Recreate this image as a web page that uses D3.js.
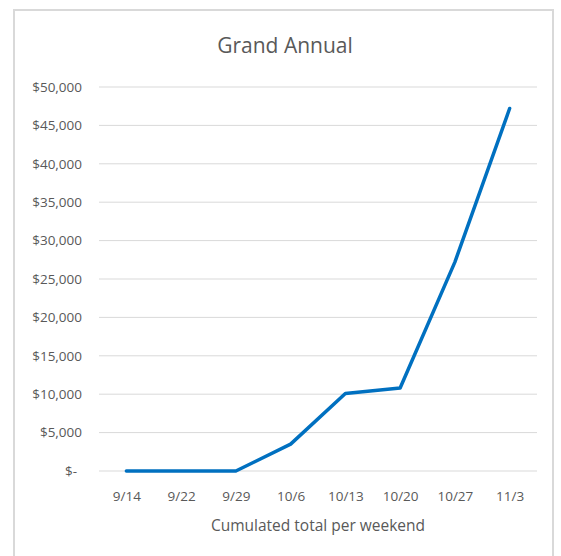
<!DOCTYPE html>
<html>
<head>
<meta charset="utf-8">
<script src="https://cdn.jsdelivr.net/npm/d3@7"></script>
<style>
  body { margin: 0; background: #fff; }
  text { font-family: "Open Sans", "Noto Sans", sans-serif; fill: #595959; }
</style>
</head>
<body>
<div id="chart"></div>
<script>
// data
var weekends = ["9/14", "9/22", "9/29", "10/6", "10/13", "10/20", "10/27", "11/3"];
var totals = [0, 0, 0, 3500, 10100, 10800, 27200, 47200];
var yTicks = [0, 5000, 10000, 15000, 20000, 25000, 30000, 35000, 40000, 45000, 50000];

var svgWidth = 561;
var svgHeight = 556;

var margin = { top: 87, right: 24, bottom: 85, left: 99 };
var width = svgWidth - margin.left - margin.right;
var height = svgHeight - margin.top - margin.bottom;

var svg = d3.select("#chart")
  .append("svg")
  .attr("width", svgWidth)
  .attr("height", svgHeight);

// chart frame
svg.append("rect")
  .attr("x", 14)
  .attr("y", 10)
  .attr("width", 539)
  .attr("height", 560)
  .attr("fill", "none")
  .attr("stroke", "#d9d9d9")
  .attr("stroke-width", 2);

var chartGroup = svg.append("g")
  .attr("transform", `translate(${margin.left}, ${margin.top})`);

var xScale = d3.scalePoint()
  .domain(weekends)
  .range([0, width])
  .padding(0.5);

var yScale = d3.scaleLinear()
  .domain([0, 50000])
  .range([height, 0]);

// gridlines
chartGroup.selectAll(".grid")
  .data(yTicks)
  .enter()
  .append("line")
  .attr("x1", 0)
  .attr("x2", width)
  .attr("y1", d => yScale(d))
  .attr("y2", d => yScale(d))
  .attr("stroke", "#d9d9d9")
  .attr("stroke-width", 1);

// y axis labels
var leftAxis = d3.axisLeft(yScale)
  .tickValues(yTicks)
  .tickSize(0)
  .tickPadding(17)
  .tickFormat(d => d === 0 ? "$-" : "$" + d3.format(",")(d));

var yAxis = chartGroup.append("g").call(leftAxis);
yAxis.select(".domain").remove();
yAxis.selectAll("text").style("font-size", "13.5px");
// "$-" sits a bit left in accounting format
yAxis.selectAll("text").filter(d => d === 0).attr("dx", "-5px");

// x axis labels
var bottomAxis = d3.axisBottom(xScale).tickSize(0).tickPadding(20);
var xAxis = chartGroup.append("g")
  .attr("transform", `translate(0, ${height})`)
  .call(bottomAxis);
xAxis.select(".domain").remove();
xAxis.selectAll("text").style("font-size", "13.5px");

// line
var line = d3.line()
  .x((d, i) => xScale(weekends[i]))
  .y(d => yScale(d));

chartGroup.append("path")
  .datum(totals)
  .attr("d", line)
  .attr("fill", "none")
  .attr("stroke", "#0070c0")
  .attr("stroke-width", 3.5)
  .attr("stroke-linejoin", "round")
  .attr("stroke-linecap", "round");

// title
svg.append("text")
  .attr("x", 285)
  .attr("y", 53)
  .attr("text-anchor", "middle")
  .style("font-size", "21px")
  .text("Grand Annual");

// x axis title
svg.append("text")
  .attr("x", 318)
  .attr("y", 531)
  .attr("text-anchor", "middle")
  .style("font-size", "15.5px")
  .text("Cumulated total per weekend");
</script>
</body>
</html>
